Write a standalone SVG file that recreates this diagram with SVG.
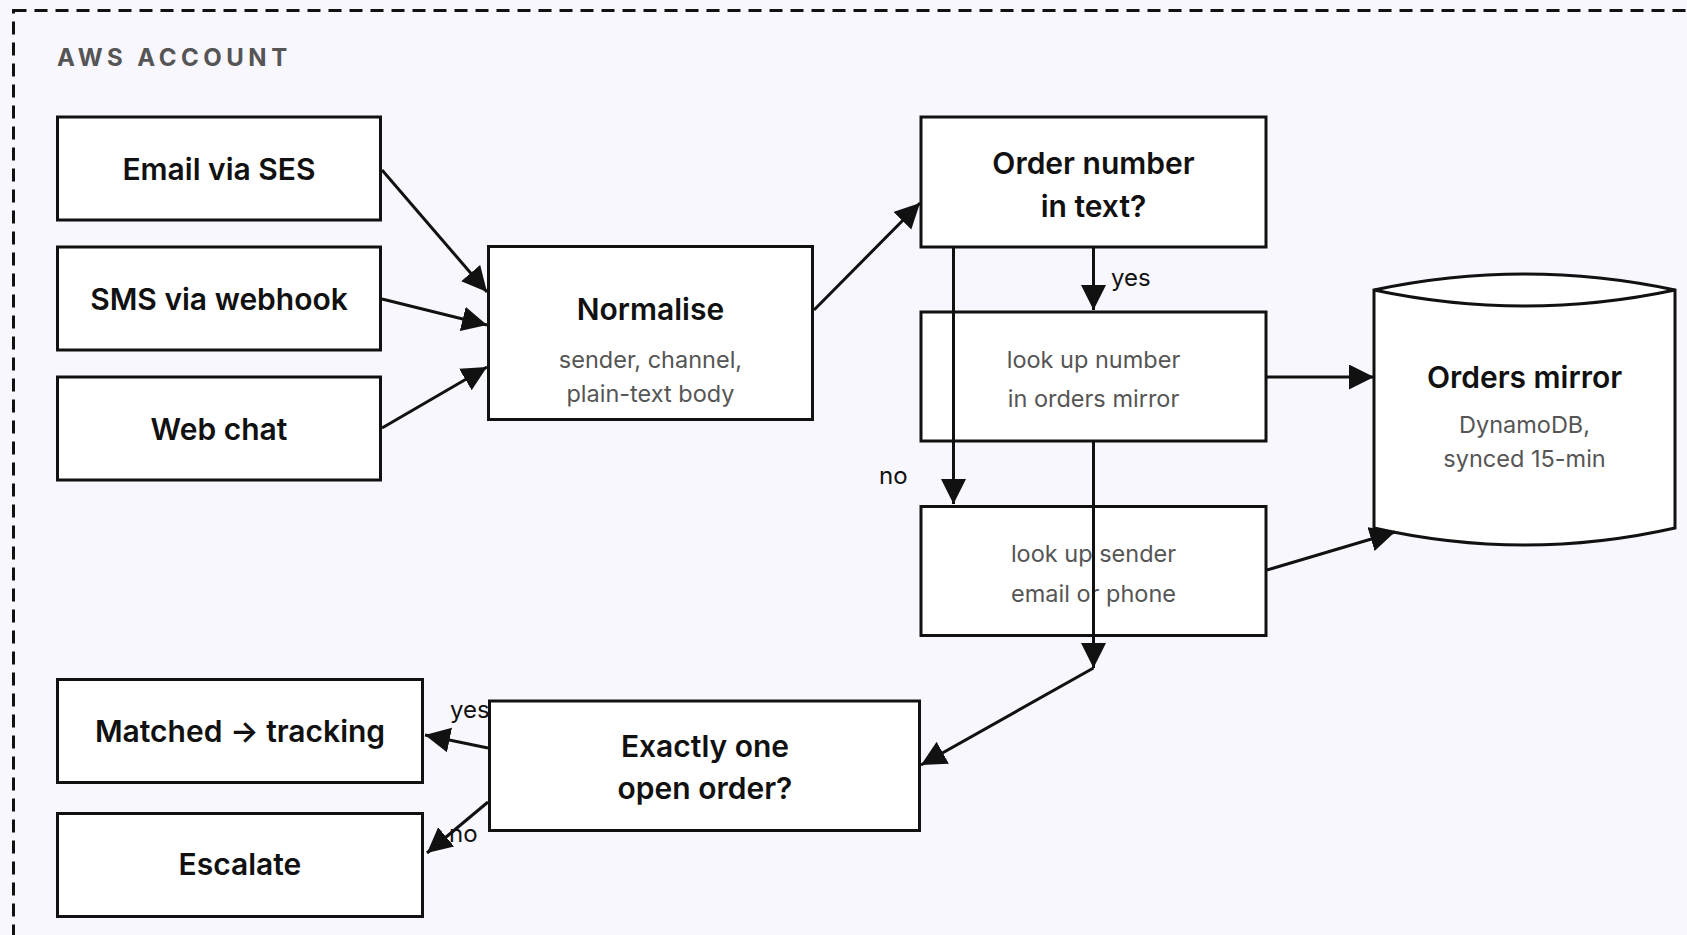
<svg xmlns="http://www.w3.org/2000/svg" width="1687" height="935" viewBox="0 0 1687 935">
  <style>
    .zone { fill: #f8f7fd; stroke: #111; stroke-width: 3; stroke-dasharray: 13 8; }
    .zone-label { font-family: Inter, "Liberation Sans", sans-serif; font-size: 24px; font-weight: 700; letter-spacing: 4.5px; fill: #555; }
    .box { fill: #fff; stroke: #111; stroke-width: 3; }
    .title { font-family: Inter, "Liberation Sans", sans-serif; font-size: 30px; font-weight: 600; fill: #111; text-anchor: middle; }
    .sub { font-family: Inter, "Liberation Sans", sans-serif; font-size: 23.5px; font-weight: 400; fill: #555; text-anchor: middle; }
    .edge-label { font-family: Inter, "Liberation Sans", sans-serif; font-size: 24px; font-weight: 400; fill: #111; }
    .edge { fill: none; stroke: #111; stroke-width: 3; marker-end: url(#arrow); }
  </style>
  <defs>
    <marker id="arrow" markerUnits="userSpaceOnUse" markerWidth="26" markerHeight="26" refX="25" refY="12.5" orient="auto">
      <path d="M0,0 L25,12.5 L0,25 Z" fill="#111"/>
    </marker>
  </defs>

  <!-- page + account boundary -->
  <rect x="0" y="0" width="1687" height="935" fill="#f8f7fd"/>
  <rect class="zone" x="13.5" y="10.5" width="1720" height="980"/>
  <text class="zone-label" x="57" y="65.5">AWS ACCOUNT</text>

  <!-- edge labels sit underneath the nodes -->
  <g id="edge-labels">
    <text class="edge-label" x="1111" y="286">yes</text>
    <text class="edge-label" x="879" y="484">no</text>
    <text class="edge-label" x="450" y="718">yes</text>
    <text class="edge-label" x="449" y="842">no</text>
  </g>

  <g id="email">
    <rect class="box" x="57.5" y="117" width="323" height="103"/>
    <text class="title" x="219" y="179.5">Email via SES</text>
  </g>
  <g id="sms">
    <rect class="box" x="57.5" y="247" width="323" height="103"/>
    <text class="title" x="219" y="309.5">SMS via webhook</text>
  </g>
  <g id="webchat">
    <rect class="box" x="57.5" y="377" width="323" height="103"/>
    <text class="title" x="219" y="439.5">Web chat</text>
  </g>

  <g id="normalise">
    <rect class="box" x="488.5" y="246.5" width="324" height="173"/>
    <text class="title" x="650.5" y="320">Normalise</text>
    <text class="sub" x="650.5" y="368">sender, channel,</text>
    <text class="sub" x="650.5" y="402">plain-text body</text>
  </g>

  <g id="order-number">
    <rect class="box" x="921" y="117" width="345" height="130"/>
    <text class="title" x="1093.5" y="174">Order number</text>
    <text class="title" x="1093.5" y="217">in text?</text>
  </g>

  <g id="lookup-number">
    <rect class="box" x="921" y="312" width="345" height="129"/>
    <text class="sub" x="1093.5" y="368">look up number</text>
    <text class="sub" x="1093.5" y="407">in orders mirror</text>
  </g>

  <g id="lookup-sender">
    <rect class="box" x="921" y="506.5" width="345" height="129"/>
    <text class="sub" x="1093.5" y="562">look up sender</text>
    <text class="sub" x="1093.5" y="602">email or phone</text>
  </g>

  <g id="orders-mirror">
    <path class="box" d="M1374,290 L1374,528 Q1524.5,562 1675,528 L1675,290 Q1524.5,258 1374,290 Z"/>
    <path class="box" d="M1374,290 Q1524.5,322 1675,290"/>
    <text class="title" x="1524.5" y="388">Orders mirror</text>
    <text class="sub" x="1524.5" y="433">DynamoDB,</text>
    <text class="sub" x="1524.5" y="467">synced 15-min</text>
  </g>

  <g id="exactly-one">
    <rect class="box" x="489.5" y="701" width="430" height="129.5"/>
    <text class="title" x="705" y="757">Exactly one</text>
    <text class="title" x="705" y="799">open order?</text>
  </g>

  <g id="matched">
    <rect class="box" x="57.5" y="679.5" width="365" height="103"/>
    <text class="title" x="240" y="742">Matched → tracking</text>
  </g>

  <g id="escalate">
    <rect class="box" x="57.5" y="813.5" width="365" height="103"/>
    <text class="title" x="240" y="875">Escalate</text>
  </g>

  <g id="connectors">
    <path class="edge" d="M382,170 L487,292"/>
    <path class="edge" d="M382,299 L487,325"/>
    <path class="edge" d="M382,428 L487,367"/>
    <path class="edge" d="M814,310 L920,203"/>
    <path class="edge" d="M1093.5,248 L1093.5,310"/>
    <path class="edge" d="M953.5,248 L953.5,504"/>
    <path class="edge" d="M1267,377 L1374,377"/>
    <path class="edge" d="M1267,570 L1395,532"/>
    <path class="edge" d="M1093.5,442 L1093.5,668"/>
    <path class="edge" d="M1093.5,668 L921,765"/>
    <path class="edge" d="M488,748 L425,735"/>
    <path class="edge" d="M488,802 L427,853"/>
  </g>
</svg>
